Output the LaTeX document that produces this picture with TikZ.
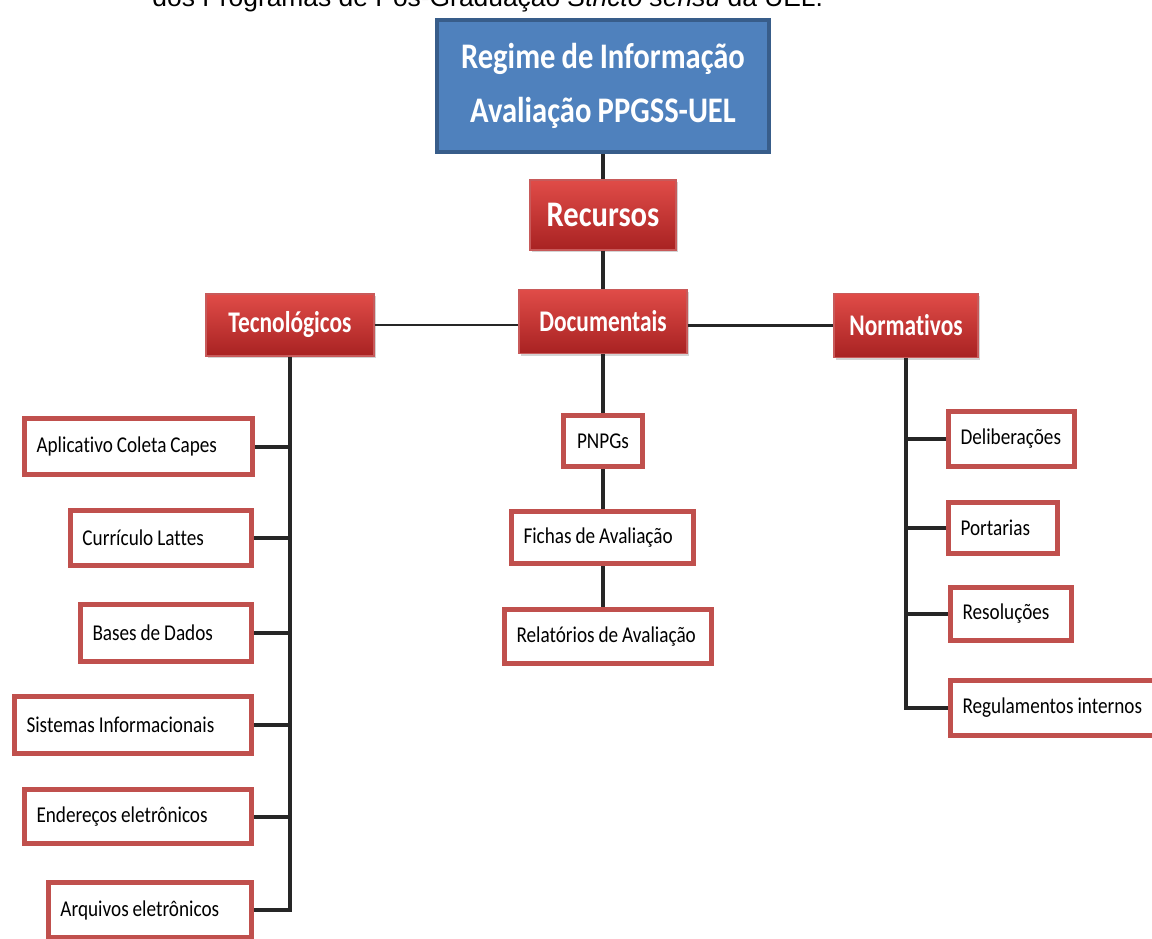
\documentclass[tikz,border=0pt]{standalone}
\usepackage{fontspec}
\setmainfont{Carlito}[FakeStretch=0.85, WordSpace=0.9, Ligatures=NoCommon]
\newfontfamily\hdrfont{Carlito}[FakeStretch=0.78, Ligatures=NoCommon]
\newfontfamily\captionfont{Liberation Sans}
\usepackage{xcolor}
\usepackage{tikz}
\usetikzlibrary{shapes,arrows,positioning,shadows}

\definecolor{topblue}{RGB}{79,129,189}
\definecolor{topedge}{RGB}{56,93,138}
\definecolor{hdrtop}{RGB}{224,76,72}
\definecolor{hdrbot}{RGB}{168,34,34}
\definecolor{hdredge}{RGB}{200,90,90}
\definecolor{leafedge}{RGB}{192,80,77}
\definecolor{linkgray}{RGB}{38,38,38}

\begin{document}
\begin{tikzpicture}[
                x=0.5pt, y=-0.5pt,
                topbox/.style={
                    draw=topedge,
                    line width=2pt,
                    fill=topblue,
                    text=white,
                    align=center,
                    font=\bfseries\fontsize{18}{27}\selectfont
                },
                hdr/.style={
                    draw=hdredge,
                    line width=0.6pt,
                    top color=hdrtop,
                    bottom color=hdrbot,
                    text=white,
                    drop shadow={shadow xshift=1pt, shadow yshift=-1pt, opacity=0.35},
                    font=\hdrfont\bfseries\fontsize{15}{18}\selectfont
                },
                leaf/.style={
                    draw=leafedge,
                    line width=2.5pt,
                    fill=white,
                    inner xsep=6pt,
                    align=flush left,
                    drop shadow={shadow xshift=0.8pt, shadow yshift=-0.8pt, opacity=0.2},
                    font=\fontsize{11.3}{13}\selectfont
                },
                link/.style={
                    draw=linkgray,
                    line width=2pt
                }
            ]
                \useasboundingbox (0,0) rectangle (1152,938);

                % caption cut off at the top
                \node[anchor=base west, inner sep=0pt, font=\captionfont\fontsize{13.2}{16}\selectfont]
                    (legenda) at (152,6) {dos Programas de Pós-Graduação \textit{Stricto sensu} da UEL.};

                % top levels
                \node[topbox, minimum width=166pt, minimum height=66pt] (regime) at (603,86)
                    {Regime de Informação\\Avaliação PPGSS-UEL};
                \node[hdr, minimum width=73pt, minimum height=35pt, font=\bfseries\fontsize{18}{20}\selectfont]
                    (recursos) at (603,215) {Recursos};

                \node[hdr, minimum width=84pt, minimum height=31pt] (tecno) at (290,325) {Tecnológicos};
                \node[hdr, minimum width=84pt, minimum height=32pt] (docum) at (603,321.5) {Documentais};
                \node[hdr, minimum width=72pt, minimum height=32pt] (norma) at (906,325.5) {Normativos};

                % tecnologicos
                \node[leaf, text width=102pt, minimum height=28pt] (aplicativo) at (138.5,446.5) {Aplicativo Coleta Capes};
                \node[leaf, text width=78.5pt, minimum height=27.5pt] (curriculo) at (161,538) {Currículo Lattes};
                \node[leaf, text width=73.5pt, minimum height=28.5pt] (bases) at (166,633) {Bases de Dados};
                \node[leaf, text width=106.5pt, minimum height=28.5pt] (sistemas) at (133,725) {Sistemas Informacionais};
                \node[leaf, text width=101.5pt, minimum height=27pt] (enderecos) at (138,816.5) {Endereços eletrônicos};
                \node[leaf, text width=89.5pt, minimum height=27.5pt] (arquivos) at (150,910) {Arquivos eletrônicos};

                % documentais
                \node[leaf, text width=27.5pt, align=center, minimum height=25.5pt] (pnpgs) at (603,441) {PNPGs};
                \node[leaf, text width=79pt, minimum height=26pt] (fichas) at (602.5,537.5) {Fichas de Avaliação};
                \node[leaf, text width=91.5pt, minimum height=27pt] (relatorios) at (608,636.5) {Relatórios de Avaliação};

                % normativos
                \node[leaf, text width=51pt, minimum height=27.5pt] (delib) at (1011.5,439) {Deliberações};
                \node[leaf, text width=42.5pt, minimum height=25.5pt] (portarias) at (1003,528) {Portarias};
                \node[leaf, text width=48.5pt, minimum height=26.5pt] (resol) at (1011,614) {Resoluções};
                \node[leaf, text width=92.5pt, minimum height=27.5pt] (regul) at (1055,708) {Regulamentos internos};

                % connectors
                \draw[link] (regime.south) -- (recursos.north);
                \draw[link] (recursos.south) -- (docum.north);
                \draw[link, line width=1.2pt] (tecno.east) -- (tecno.east -| docum.west);
                \draw[link, line width=1.2pt] (norma.west -| docum.east) -- (norma.west);
                \draw[link] (docum.south) -- (pnpgs.north);
                \draw[link] (pnpgs.south) -- (fichas.north -| pnpgs.south);
                \draw[link] (fichas.south -| pnpgs.south) -- (relatorios.north -| pnpgs.south);

                \draw[link] (tecno.south) |- (arquivos.east);
                \foreach \n in {aplicativo,curriculo,bases,sistemas,enderecos}
                    \draw[link] (\n.east) -- (\n.east -| tecno.south);

                \draw[link] (norma.south) |- (regul.west);
                \foreach \n in {delib,portarias,resol}
                    \draw[link] (\n.west) -- (\n.west -| norma.south);
             \end{tikzpicture}
\end{document}
